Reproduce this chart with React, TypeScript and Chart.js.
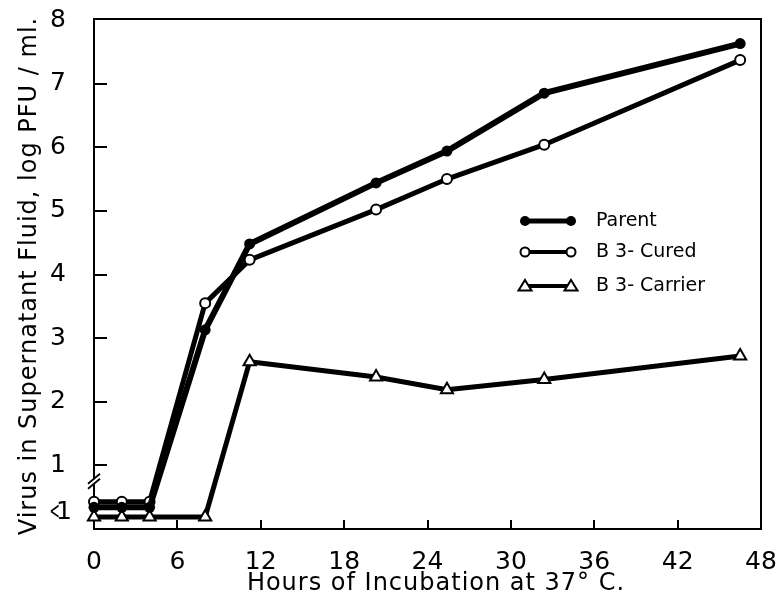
import React, { useEffect, useRef } from "react";
import { Chart, registerables } from "chart.js";

Chart.register(...registerables);

// ---- data ----
const hours = [0, 2, 4, 8, 11.2, 20.3, 25.4, 32.4, 46.5];
const parentValues = [0.34, 0.34, 0.34, 3.13, 4.48, 5.44, 5.94, 6.85, 7.63];
const curedValues = [0.43, 0.43, 0.43, 3.55, 4.23, 5.02, 5.5, 6.04, 7.37];
const carrierValues = [0.19, 0.19, 0.19, 0.19, 2.63, 2.39, 2.19, 2.35, 2.72];
const seriesNames = ["Parent", "B 3- Cured", "B 3- Carrier"];

const xTickValues = [0, 6, 12, 18, 24, 30, 36, 42, 48];
const yTickValues = [1, 2, 3, 4, 5, 6, 7, 8];
const belowOneValue = 0.26;
const belowOneLabel = "<1";
const axisBreakValue = 0.75;

const xTitle = "Hours of Incubation at 37° C.";
const yTitle = "Virus in Supernatant Fluid, log PFU / ml.";

const FONT = "DejaVu Sans";

function toPoints(values: number[]) {
  return values.map((v, i) => ({ x: hours[i], y: v }));
}

const decorPlugin = {
  id: "decor",
  afterDraw(chart: any) {
    const { ctx, chartArea } = chart;
    const xs = chart.scales.x;
    const ys = chart.scales.y;
    const { left, right, top, bottom } = chartArea;
    ctx.save();
    ctx.strokeStyle = "#000";
    ctx.lineCap = "butt";
    // top and right frame
    ctx.lineWidth = 2;
    ctx.beginPath();
    ctx.moveTo(left - 1, top - 1);
    ctx.lineTo(right, top - 1);
    ctx.lineTo(right, bottom + 1);
    ctx.stroke();
    // inward ticks on y axis
    yTickValues.forEach((v) => {
      if (v >= 8) return;
      const y = Math.round(ys.getPixelForValue(v));
      ctx.beginPath();
      ctx.moveTo(left, y);
      ctx.lineTo(left + 13, y);
      ctx.stroke();
    });
    // inward ticks on x axis
    xTickValues.forEach((v) => {
      if (v <= 0 || v >= 48) return;
      const x = Math.round(xs.getPixelForValue(v));
      ctx.beginPath();
      ctx.moveTo(x, bottom);
      ctx.lineTo(x, bottom - 9);
      ctx.stroke();
    });
    // axis break
    const by = ys.getPixelForValue(axisBreakValue);
    ctx.fillStyle = "#fff";
    ctx.fillRect(left - 3, by - 3, 6, 6);
    ctx.lineWidth = 1.8;
    [-2.5, 2.5].forEach((d) => {
      ctx.beginPath();
      ctx.moveTo(left - 6, by + d + 5);
      ctx.lineTo(left + 6, by + d - 5);
      ctx.stroke();
    });

    ctx.fillStyle = "#000";
    // "<1" label (narrow "<" as in the reference lettering)
    const ly = ys.getPixelForValue(belowOneValue);
    ctx.font = `25px "${FONT}"`;
    ctx.textBaseline = "middle";
    ctx.textAlign = "right";
    const one = belowOneLabel.slice(1);
    const lt = belowOneLabel.slice(0, 1);
    ctx.fillText(one, 72, ly);
    const oneW = ctx.measureText(one).width;
    ctx.save();
    ctx.translate(72 - oneW + 4, ly);
    ctx.scale(0.5, 1);
    ctx.fillText(lt, 0, 0);
    ctx.restore();

    // axis titles
    ctx.font = `24px "${FONT}"`;
    (ctx as any).letterSpacing = "1px";
    ctx.textAlign = "center";
    ctx.textBaseline = "middle";
    ctx.fillText(xTitle, 436, 584);
    ctx.save();
    ctx.translate(30, 276);
    ctx.rotate(-Math.PI / 2);
    ctx.fillText(yTitle, 0, 0);
    ctx.restore();

    // legend
    const lx0 = 525;
    const lx1 = 571;
    const tx = 596;
    const rows = [221, 252, 286];
    ctx.font = `19px "${FONT}"`;
    (ctx as any).letterSpacing = "0px";
    ctx.textBaseline = "middle";
    ctx.textAlign = "left";
    rows.forEach((y, i) => {
      ctx.strokeStyle = "#000";
      ctx.lineWidth = i === 0 ? 5 : 4;
      ctx.beginPath();
      ctx.moveTo(lx0, y);
      ctx.lineTo(lx1, y);
      ctx.stroke();
      [lx0, lx1].forEach((px) => {
        ctx.lineWidth = 2;
        if (i === 0) {
          ctx.fillStyle = "#000";
          ctx.beginPath();
          ctx.arc(px, y, 5, 0, Math.PI * 2);
          ctx.fill();
        } else if (i === 1) {
          ctx.fillStyle = "#fff";
          ctx.beginPath();
          ctx.arc(px, y, 4.5, 0, Math.PI * 2);
          ctx.fill();
          ctx.stroke();
        } else {
          ctx.fillStyle = "#fff";
          ctx.beginPath();
          ctx.moveTo(px, y - 6);
          ctx.lineTo(px + 6.5, y + 4.5);
          ctx.lineTo(px - 6.5, y + 4.5);
          ctx.closePath();
          ctx.fill();
          ctx.stroke();
        }
      });
      ctx.fillStyle = "#000";
      ctx.fillText(seriesNames[i], tx, y);
    });
    ctx.restore();
  },
};

function zeroPadding(s: any) {
  s.paddingTop = 0;
  s.paddingBottom = 0;
  s.paddingLeft = 0;
  s.paddingRight = 0;
}

export default function App() {
  const canvasRef = useRef<HTMLCanvasElement | null>(null);

  useEffect(() => {
    const canvas = canvasRef.current;
    if (!canvas) return;
    const chart = new Chart(canvas, {
      type: "line",
      data: {
        datasets: [
          {
            label: seriesNames[0],
            data: toPoints(parentValues),
            borderColor: "#000",
            borderWidth: 6,
            pointRadius: 5.5,
            pointBackgroundColor: "#000",
            pointBorderColor: "#000",
            pointBorderWidth: 0,
            tension: 0,
            clip: false,
          },
          {
            label: seriesNames[1],
            data: toPoints(curedValues),
            borderColor: "#000",
            borderWidth: 5,
            pointRadius: 5,
            pointBackgroundColor: "#fff",
            pointBorderColor: "#000",
            pointBorderWidth: 2,
            tension: 0,
            clip: false,
          },
          {
            label: seriesNames[2],
            data: toPoints(carrierValues),
            borderColor: "#000",
            borderWidth: 5,
            pointStyle: "triangle",
            pointRadius: 7,
            pointBackgroundColor: "#fff",
            pointBorderColor: "#000",
            pointBorderWidth: 2,
            tension: 0,
            clip: false,
          },
        ],
      },
      options: {
        animation: false,
        responsive: true,
        maintainAspectRatio: false,
        layout: { padding: { top: 20, right: 21, left: 0, bottom: 0 } },
        plugins: {
          legend: { display: false },
          tooltip: { enabled: false },
        },
        scales: {
          x: {
            type: "linear",
            min: 0,
            max: 48,
            grid: { display: false },
            border: { display: true, color: "#000", width: 2 },
            afterBuildTicks: (s: any) => {
              s.ticks = xTickValues.map((v) => ({ value: v }));
            },
            afterFit: (s: any) => {
              s.height = 76;
              zeroPadding(s);
            },
            ticks: {
              color: "#000",
              padding: 10,
              maxRotation: 0,
              font: { family: FONT, size: 25 },
            },
            title: { display: false },
          },
          y: {
            type: "linear",
            min: 0,
            max: 8,
            grid: { display: false },
            border: { display: true, color: "#000", width: 2 },
            afterBuildTicks: (s: any) => {
              s.ticks = yTickValues.map((v) => ({ value: v }));
            },
            afterFit: (s: any) => {
              s.width = 94;
              zeroPadding(s);
            },
            ticks: {
              color: "#000",
              padding: 20,
              font: { family: FONT, size: 25 },
              callback: (v: any) => String(v),
            },
            title: { display: false },
          },
        },
      },
      plugins: [decorPlugin],
    } as any);
    return () => chart.destroy();
  }, []);

  return (
    <div style={{ position: "fixed", left: 0, top: 0, width: 782, height: 605, background: "#fff" }}>
      <canvas ref={canvasRef} />
    </div>
  );
}
